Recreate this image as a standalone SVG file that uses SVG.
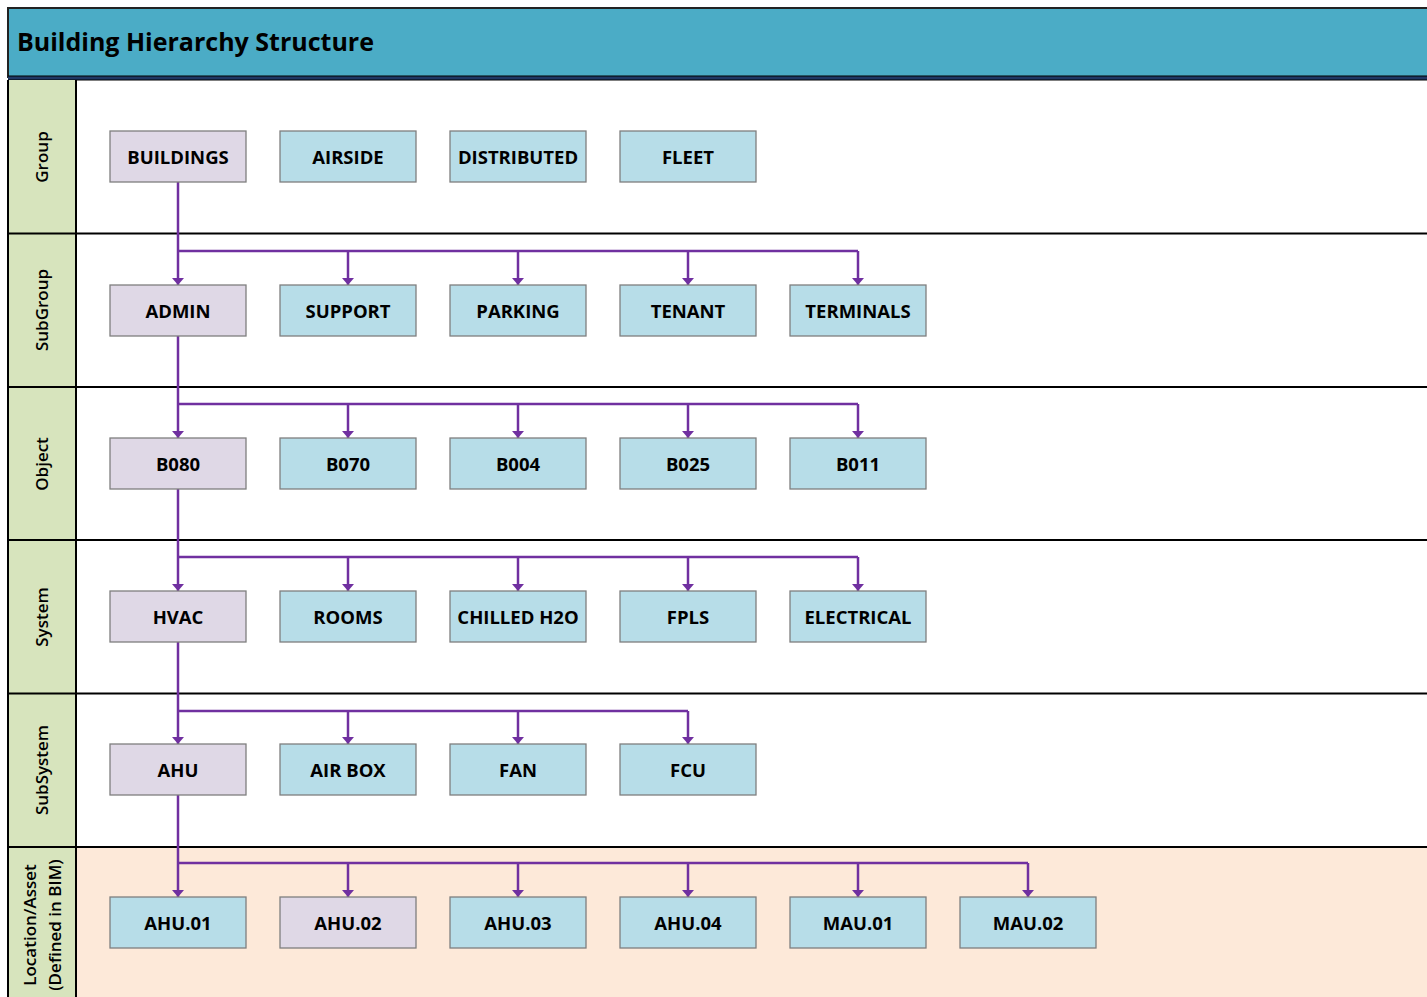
<svg xmlns="http://www.w3.org/2000/svg" width="1427" height="997" viewBox="0 0 1427 997">
<defs>
<style>
.lbl{font-family:"Open Sans","Liberation Sans",sans-serif;font-weight:700;font-size:18.5px;fill:#000;text-anchor:middle;dominant-baseline:central}
.side{font-family:"Open Sans","Liberation Sans",sans-serif;font-weight:600;font-size:17px;fill:#000;text-anchor:middle}
.bx{stroke:#7f7f7f;stroke-width:1.3}
.p{fill:#dfd8e6}
.b{fill:#b7dde8}
.c{fill:none;stroke:#7030a0;stroke-width:2.5}
.rl{stroke:#000;stroke-width:2}
</style>
<marker id="ah" viewBox="0 0 7 12" refX="7" refY="6" markerWidth="7" markerHeight="12" markerUnits="userSpaceOnUse" orient="auto">
<path d="M0,0 L7,6 L0,12 Z" fill="#7030a0"/>
</marker>
</defs>
<rect width="1427" height="997" fill="#fff"/>
<!-- header -->
<g id="header">
<rect x="8" y="8" width="1430" height="69" fill="#4bacc6" stroke="#222" stroke-width="2"/>
<rect x="8" y="76" width="1430" height="4" fill="#1f3864"/>
<line x1="8" y1="76" x2="1427" y2="76" stroke="#000" stroke-width="1"/>
<line x1="8" y1="80" x2="1427" y2="80" stroke="#000" stroke-width="1"/>
<text x="17" y="41" font-family="'Open Sans','Liberation Sans',sans-serif" font-weight="700" font-size="25" fill="#000" dominant-baseline="central">Building Hierarchy Structure</text>
</g>
<!-- rows -->
<g id="lanes">
<rect x="76" y="847" width="1351" height="150" fill="#fde9d9"/>
<rect x="8" y="80" width="68" height="917" fill="#d7e4bd"/>
<line class="rl" x1="8" y1="80" x2="8" y2="997"/>
<line class="rl" x1="76" y1="80" x2="76" y2="997"/>
<line class="rl" x1="8" y1="233.5" x2="1427" y2="233.5"/>
<line class="rl" x1="8" y1="387" x2="1427" y2="387"/>
<line class="rl" x1="8" y1="540" x2="1427" y2="540"/>
<line class="rl" x1="8" y1="693.5" x2="1427" y2="693.5"/>
<line class="rl" x1="8" y1="847" x2="1427" y2="847"/>
<text class="side" transform="translate(48,157) rotate(-90)">Group</text>
<text class="side" transform="translate(48,310) rotate(-90)">SubGroup</text>
<text class="side" transform="translate(48,464) rotate(-90)">Object</text>
<text class="side" transform="translate(48,617) rotate(-90)">System</text>
<text class="side" transform="translate(48,770) rotate(-90)">SubSystem</text>
<text class="side" transform="translate(36,925) rotate(-90)">Location/Asset</text>
<text class="side" transform="translate(61,925) rotate(-90)">(Defined in BIM)</text>
</g>
<!-- connectors -->
<g id="connectors">
<path class="c" d="M178,182 V285" marker-end="url(#ah)"/>
<path class="c" d="M178,251 H858"/>
<path class="c" d="M348,251 V285" marker-end="url(#ah)"/>
<path class="c" d="M518,251 V285" marker-end="url(#ah)"/>
<path class="c" d="M688,251 V285" marker-end="url(#ah)"/>
<path class="c" d="M858,251 V285" marker-end="url(#ah)"/>

<path class="c" d="M178,336 V438" marker-end="url(#ah)"/>
<path class="c" d="M178,404 H858"/>
<path class="c" d="M348,404 V438" marker-end="url(#ah)"/>
<path class="c" d="M518,404 V438" marker-end="url(#ah)"/>
<path class="c" d="M688,404 V438" marker-end="url(#ah)"/>
<path class="c" d="M858,404 V438" marker-end="url(#ah)"/>

<path class="c" d="M178,489 V591" marker-end="url(#ah)"/>
<path class="c" d="M178,557 H858"/>
<path class="c" d="M348,557 V591" marker-end="url(#ah)"/>
<path class="c" d="M518,557 V591" marker-end="url(#ah)"/>
<path class="c" d="M688,557 V591" marker-end="url(#ah)"/>
<path class="c" d="M858,557 V591" marker-end="url(#ah)"/>

<path class="c" d="M178,642 V744" marker-end="url(#ah)"/>
<path class="c" d="M178,711 H688"/>
<path class="c" d="M348,711 V744" marker-end="url(#ah)"/>
<path class="c" d="M518,711 V744" marker-end="url(#ah)"/>
<path class="c" d="M688,711 V744" marker-end="url(#ah)"/>

<path class="c" d="M178,795 V897" marker-end="url(#ah)"/>
<path class="c" d="M178,863 H1028"/>
<path class="c" d="M348,863 V897" marker-end="url(#ah)"/>
<path class="c" d="M518,863 V897" marker-end="url(#ah)"/>
<path class="c" d="M688,863 V897" marker-end="url(#ah)"/>
<path class="c" d="M858,863 V897" marker-end="url(#ah)"/>
<path class="c" d="M1028,863 V897" marker-end="url(#ah)"/>
</g>
<!-- nodes -->
<g id="n-buildings"><rect class="bx p" x="110" y="131" width="136" height="51"/><text class="lbl" x="178" y="156">BUILDINGS</text></g>
<g id="n-airside"><rect class="bx b" x="280" y="131" width="136" height="51"/><text class="lbl" x="348" y="156">AIRSIDE</text></g>
<g id="n-distributed"><rect class="bx b" x="450" y="131" width="136" height="51"/><text class="lbl" x="518" y="156">DISTRIBUTED</text></g>
<g id="n-fleet"><rect class="bx b" x="620" y="131" width="136" height="51"/><text class="lbl" x="688" y="156">FLEET</text></g>

<g id="n-admin"><rect class="bx p" x="110" y="285" width="136" height="51"/><text class="lbl" x="178" y="310">ADMIN</text></g>
<g id="n-support"><rect class="bx b" x="280" y="285" width="136" height="51"/><text class="lbl" x="348" y="310">SUPPORT</text></g>
<g id="n-parking"><rect class="bx b" x="450" y="285" width="136" height="51"/><text class="lbl" x="518" y="310">PARKING</text></g>
<g id="n-tenant"><rect class="bx b" x="620" y="285" width="136" height="51"/><text class="lbl" x="688" y="310">TENANT</text></g>
<g id="n-terminals"><rect class="bx b" x="790" y="285" width="136" height="51"/><text class="lbl" x="858" y="310">TERMINALS</text></g>

<g id="n-b080"><rect class="bx p" x="110" y="438" width="136" height="51"/><text class="lbl" x="178" y="463">B080</text></g>
<g id="n-b070"><rect class="bx b" x="280" y="438" width="136" height="51"/><text class="lbl" x="348" y="463">B070</text></g>
<g id="n-b004"><rect class="bx b" x="450" y="438" width="136" height="51"/><text class="lbl" x="518" y="463">B004</text></g>
<g id="n-b025"><rect class="bx b" x="620" y="438" width="136" height="51"/><text class="lbl" x="688" y="463">B025</text></g>
<g id="n-b011"><rect class="bx b" x="790" y="438" width="136" height="51"/><text class="lbl" x="858" y="463">B011</text></g>

<g id="n-hvac"><rect class="bx p" x="110" y="591" width="136" height="51"/><text class="lbl" x="178" y="616">HVAC</text></g>
<g id="n-rooms"><rect class="bx b" x="280" y="591" width="136" height="51"/><text class="lbl" x="348" y="616">ROOMS</text></g>
<g id="n-chilled"><rect class="bx b" x="450" y="591" width="136" height="51"/><text class="lbl" x="518" y="616">CHILLED H2O</text></g>
<g id="n-fpls"><rect class="bx b" x="620" y="591" width="136" height="51"/><text class="lbl" x="688" y="616">FPLS</text></g>
<g id="n-electrical"><rect class="bx b" x="790" y="591" width="136" height="51"/><text class="lbl" x="858" y="616">ELECTRICAL</text></g>

<g id="n-ahu"><rect class="bx p" x="110" y="744" width="136" height="51"/><text class="lbl" x="178" y="769">AHU</text></g>
<g id="n-airbox"><rect class="bx b" x="280" y="744" width="136" height="51"/><text class="lbl" x="348" y="769">AIR BOX</text></g>
<g id="n-fan"><rect class="bx b" x="450" y="744" width="136" height="51"/><text class="lbl" x="518" y="769">FAN</text></g>
<g id="n-fcu"><rect class="bx b" x="620" y="744" width="136" height="51"/><text class="lbl" x="688" y="769">FCU</text></g>

<g id="n-ahu01"><rect class="bx b" x="110" y="897" width="136" height="51"/><text class="lbl" x="178" y="922">AHU.01</text></g>
<g id="n-ahu02"><rect class="bx p" x="280" y="897" width="136" height="51"/><text class="lbl" x="348" y="922">AHU.02</text></g>
<g id="n-ahu03"><rect class="bx b" x="450" y="897" width="136" height="51"/><text class="lbl" x="518" y="922">AHU.03</text></g>
<g id="n-ahu04"><rect class="bx b" x="620" y="897" width="136" height="51"/><text class="lbl" x="688" y="922">AHU.04</text></g>
<g id="n-mau01"><rect class="bx b" x="790" y="897" width="136" height="51"/><text class="lbl" x="858" y="922">MAU.01</text></g>
<g id="n-mau02"><rect class="bx b" x="960" y="897" width="136" height="51"/><text class="lbl" x="1028" y="922">MAU.02</text></g>
</svg>
